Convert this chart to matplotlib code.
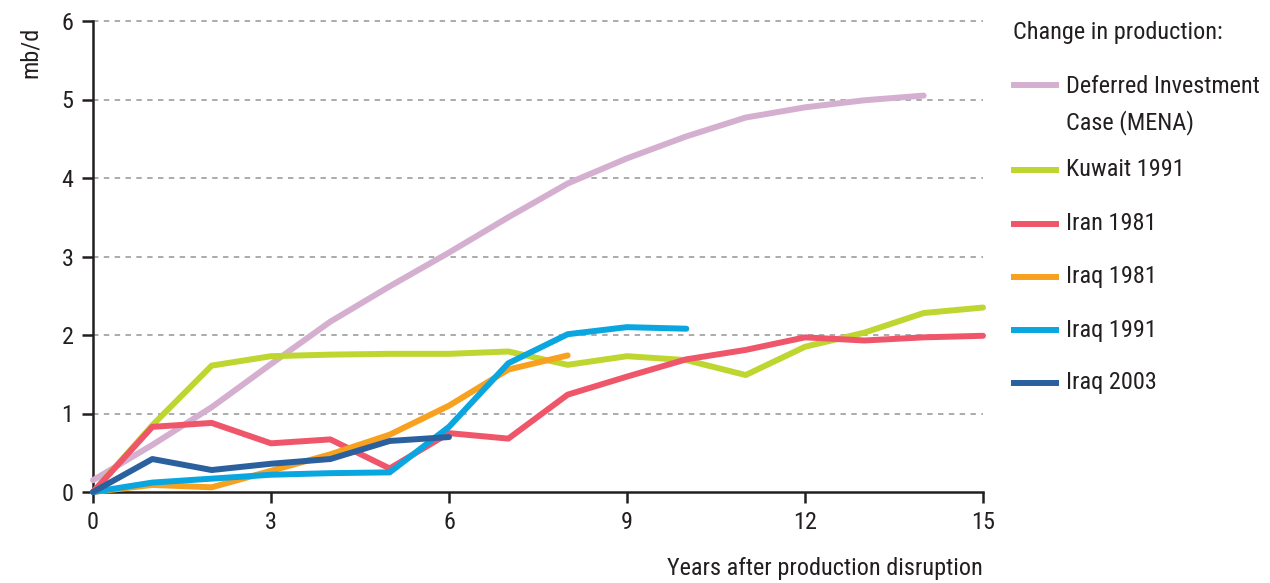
import matplotlib.pyplot as plt
from matplotlib.lines import Line2D
from matplotlib import font_manager

# data (mb/d, years after disruption)
years = list(range(16))
deferred = [0.15, 0.6, 1.08, 1.63, 2.17, 2.62, 3.05, 3.5, 3.93, 4.25, 4.53, 4.77, 4.9, 4.99, 5.05]
kuwait_1991 = [0.0, 0.85, 1.61, 1.73, 1.75, 1.76, 1.76, 1.79, 1.62, 1.73, 1.68, 1.49, 1.85, 2.03, 2.28, 2.35]
iran_1981 = [0.0, 0.83, 0.88, 0.62, 0.67, 0.3, 0.75, 0.68, 1.24, 1.47, 1.69, 1.81, 1.97, 1.93, 1.97, 1.99]
iraq_1981 = [0.0, 0.09, 0.06, 0.27, 0.48, 0.73, 1.1, 1.56, 1.74]
iraq_1991 = [0.0, 0.12, 0.17, 0.22, 0.24, 0.25, 0.83, 1.64, 2.01, 2.1, 2.08]
iraq_2003 = [0.0, 0.42, 0.28, 0.36, 0.42, 0.65, 0.7]

labels = ["Deferred Investment\nCase (MENA)", "Kuwait 1991", "Iran 1981",
          "Iraq 1981", "Iraq 1991", "Iraq 2003"]
colors = ["#D5AFD0", "#BED62F", "#F0566A", "#F7A11F", "#0AA6E0", "#2B609E"]
series = [deferred, kuwait_1991, iran_1981, iraq_1981, iraq_1991, iraq_2003]

# the original uses a condensed face; fall back to Open Sans if none is around
names = {f.name for f in font_manager.fontManager.ttflist}
if "Roboto Condensed" in names:
    font, fs = "Roboto Condensed", 17.5
else:
    font, fs = "Open Sans", 14.5
plt.rcParams["font.family"] = font
plt.rcParams["font.size"] = fs
ink = "#231F20"

fig = plt.figure(figsize=(12.7, 5.83), dpi=100)
ax = fig.add_axes([93 / 1270, 1 - 492 / 583, 890 / 1270, 471 / 583])

for i in range(1, 7):
    ax.axhline(i, color="#A5A5A8", lw=1.3, ls=(0, (3, 3)), zorder=1, clip_on=False)

for vals, c in zip(series, colors):
    ax.plot(years[:len(vals)], vals, color=c, lw=4.3, solid_capstyle="round",
            solid_joinstyle="round", zorder=3, clip_on=False)

ax.set_xlim(0, 15)
ax.set_ylim(0, 6)
ax.set_xticks([0, 3, 6, 9, 12, 15])
ax.set_yticks(range(7))
for s in ["top", "right"]:
    ax.spines[s].set_visible(False)
for s in ["left", "bottom"]:
    ax.spines[s].set_color(ink)
    ax.spines[s].set_linewidth(1.8)
ax.tick_params(direction="out", length=8, width=1.8, color=ink, labelcolor=ink,
               labelsize=fs, pad=6)

fig.text(983 / 1270, 1 - 569 / 583, "Years after production disruption",
         ha="right", va="center", color=ink)
fig.text(30 / 1270, 1 - 52 / 583, "mb/d", rotation=90, ha="center", va="center",
         color=ink)

# legend drawn by hand so the handle sits on the first text line
fig.text(1013 / 1270, 1 - 32 / 583, "Change in production:", ha="left", va="center",
         color=ink)
ys = [85, 170, 224, 277, 330, 383]
for lab, c, y in zip(labels, colors, ys):
    yf = 1 - y / 583
    fig.add_artist(Line2D([1014 / 1270, 1056 / 1270], [yf, yf], color=c, lw=4.3))
    if "\n" in lab:
        fig.text(1066 / 1270, yf + 10 / 583, lab, ha="left", va="top",
                 color=ink, linespacing=1.6)
    else:
        fig.text(1066 / 1270, yf, lab, ha="left", va="center", color=ink)

fig.savefig("out.png", dpi=100)
